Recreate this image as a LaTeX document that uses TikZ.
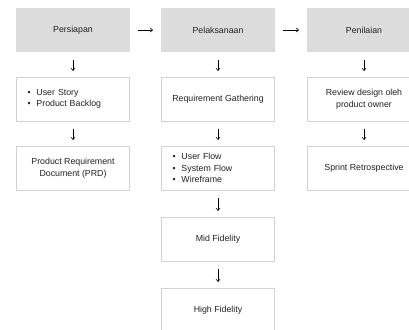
\documentclass[tikz,border=0pt]{standalone}
\usepackage{fontspec}
\setmainfont{Liberation Sans}
\usetikzlibrary{arrows.meta}
\definecolor{headfill}{HTML}{DCDCDC}
\definecolor{boxline}{HTML}{D2D2D2}
\definecolor{ink}{HTML}{222222}
\tikzset{
  head/.style={fill=headfill, minimum width=114pt, minimum height=44pt, inner sep=0pt},
  item/.style={draw=boxline, line width=0.5pt, fill=white, minimum width=113pt, minimum height=44pt, inner sep=0pt, align=center},
  list/.style={item, text width=91pt, inner xsep=11pt, align=left},
  flow/.style={->, line width=0.6pt, shorten <=8pt, shorten >=6pt}
}
\newcommand{\pt}{\makebox[9pt][l]{\textbullet}}
\begin{document}
\begin{tikzpicture}[x=1pt, y=-1pt, font=\fontsize{8.8}{11.5}\selectfont, text=ink, line join=round, line cap=round, >={To[length=2.8pt,width=4.5pt]}]
\clip (0,0) rectangle (409,329);
\fill[white] (0,0) rectangle (409,329);
% kepala kolom
\node[head] (pers) at (73,30) {Persiapan};
\node[head] (pelak) at (218,30) {Pelaksanaan};
\node[head] (penil) at (364,30) {Penilaian};
% kolom persiapan
\node[list] (story) at (73,99) {\pt User Story\\ \pt Product Backlog};
\node[item] (prd) at (73,168) {Product Requirement\\ Document (PRD)};
% kolom pelaksanaan
\node[item] (req) at (218,99) {Requirement Gathering};
\node[list] (uflow) at (218,168) {\pt User Flow\\ \pt System Flow\\ \pt Wireframe};
\node[item] (mid) at (218,239) {Mid Fidelity};
\node[item] (high) at (218,310) {High Fidelity};
% kolom penilaian
\node[item] (review) at (364,99) {Review design oleh\\ product owner};
\node[item] (retro) at (364,168) {Sprint Retrospective};
% panah
\draw[flow, shorten <=8pt, shorten >=8pt] (pers.east) -- (pelak.west);
\draw[flow, shorten <=8pt, shorten >=8pt] (pelak.east) -- (penil.west);
\foreach \a/\b in {pers/story, story/prd, pelak/req, req/uflow, uflow/mid, mid/high, penil/review, review/retro}
  \draw[flow] (\a.south) -- (\b.north);
\end{tikzpicture}
\end{document}
